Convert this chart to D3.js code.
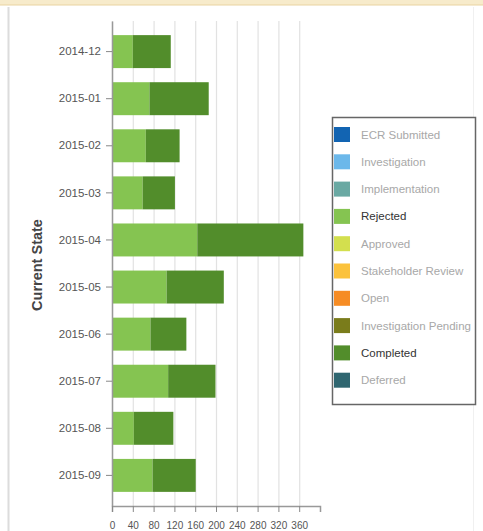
<!DOCTYPE html>
<html>
<head>
<meta charset="utf-8">
<script src="https://cdn.jsdelivr.net/npm/d3@7"></script>
<style>
  html, body { margin: 0; padding: 0; background: #fff; }
  svg { display: block; }
  text { font-family: "Liberation Sans", Arial, sans-serif; }
</style>
</head>
<body>
<div id="chart"></div>
<script>
// Monthly counts by current state
const months = ["2014-12", "2015-01", "2015-02", "2015-03", "2015-04",
                "2015-05", "2015-06", "2015-07", "2015-08", "2015-09"];
const rejected  = [40, 72, 65, 59, 164, 105, 74, 108, 42, 78];
const completed = [73, 114, 65, 62, 204, 110, 69, 91, 76, 83];

const xTicks = [0, 40, 80, 120, 160, 200, 240, 280, 320, 360];
const xMax = 400;

// Legend entries (all states); only Rejected and Completed have data
const states = ["ECR Submitted", "Investigation", "Implementation", "Rejected", "Approved",
                "Stakeholder Review", "Open", "Investigation Pending", "Completed", "Deferred"];
const stateColors = ["#1264b2", "#6cb8ea", "#6aa9a3", "#85c451", "#d3df4e",
                     "#fbc23c", "#f68c24", "#7a7c1b", "#528d2b", "#2f6670"];
const activeStates = ["Rejected", "Completed"];

const W = 483, H = 531;
const svg = d3.select("#chart").append("svg").attr("width", W).attr("height", H);

// panel frame
svg.append("rect").attr("x", 0).attr("y", 0).attr("width", W).attr("height", 5).attr("fill", "#f7ebcb");
svg.append("line").attr("x1", 0).attr("x2", W).attr("y1", 5).attr("y2", 5).attr("stroke", "#e9d3a0").attr("stroke-width", 1);
svg.append("line").attr("x1", 8.5).attr("x2", 8.5).attr("y1", 7).attr("y2", H).attr("stroke", "#dcdcdc").attr("stroke-width", 2);
svg.append("line").attr("x1", 473.5).attr("x2", 473.5).attr("y1", 7).attr("y2", H).attr("stroke", "#f0f0f0").attr("stroke-width", 1);

const x = d3.scaleLinear().domain([0, xMax]).range([112, 320]);
const y = d3.scaleBand().domain(months).range([21, 506]).padding(0.3);

const colorOf = d3.scaleOrdinal().domain(states).range(stateColors);

// gridlines
svg.append("g").selectAll("line").data(xTicks).join("line")
  .attr("x1", d => x(d) + 0.5).attr("x2", d => x(d) + 0.5)
  .attr("y1", 21).attr("y2", 506)
  .attr("stroke", "#e2e2e2").attr("stroke-width", 1.2);

// stacked bars
const rows = months.map((m, i) => ({ month: m, Rejected: rejected[i], Completed: completed[i] }));
const stacked = d3.stack().keys(activeStates)(rows);

svg.append("g").selectAll("g").data(stacked).join("g")
  .attr("fill", d => colorOf(d.key))
  .selectAll("rect").data(d => d).join("rect")
  .attr("x", d => x(d[0]))
  .attr("y", d => y(d.data.month))
  .attr("width", d => x(d[1]) - x(d[0]))
  .attr("height", y.bandwidth());

// y axis
const yAxis = svg.append("g").attr("transform", "translate(112,0)")
  .call(d3.axisLeft(y).tickSize(6).tickSizeOuter(0).tickPadding(5));
yAxis.select(".domain").attr("stroke", "#999").attr("stroke-width", 1.5);
yAxis.selectAll(".tick line").attr("stroke", "#888");
yAxis.selectAll(".tick text").attr("fill", "#555").style("font-size", "11.5px")
  .style("font-family", "'Liberation Sans', Arial, sans-serif");

// x axis
const xAxis = svg.append("g").attr("transform", "translate(0,506)")
  .call(d3.axisBottom(x).tickValues(xTicks).tickSize(6).tickSizeOuter(6).tickPadding(10));
xAxis.select(".domain").attr("stroke", "#999").attr("stroke-width", 1.5);
xAxis.selectAll(".tick line").attr("stroke", "#888");
xAxis.selectAll(".tick text").attr("fill", "#555").style("font-size", "10px")
  .style("font-family", "'Liberation Sans', Arial, sans-serif");

// y axis title
svg.append("text")
  .attr("transform", "translate(42,265) rotate(-90)")
  .attr("text-anchor", "middle")
  .attr("fill", "#444")
  .style("font-size", "14.5px").style("font-weight", "bold")
  .text("Current State");

// legend
const legend = svg.append("g");
legend.append("rect")
  .attr("x", 332.5).attr("y", 117.5).attr("width", 143).attr("height", 287)
  .attr("fill", "#fff").attr("stroke", "#666").attr("stroke-width", 1.5);

const item = legend.selectAll("g.item").data(states).join("g")
  .attr("class", "item")
  .attr("transform", (d, i) => `translate(334,${127 + i * 27.3})`);
item.append("rect").attr("width", 16).attr("height", 15).attr("fill", d => colorOf(d));
item.append("text")
  .attr("x", 27).attr("y", 7.5).attr("dy", "0.35em")
  .attr("fill", d => activeStates.includes(d) ? "#333" : "#a8a8a8")
  .style("font-size", "11.5px")
  .text(d => d);
</script>
</body>
</html>
